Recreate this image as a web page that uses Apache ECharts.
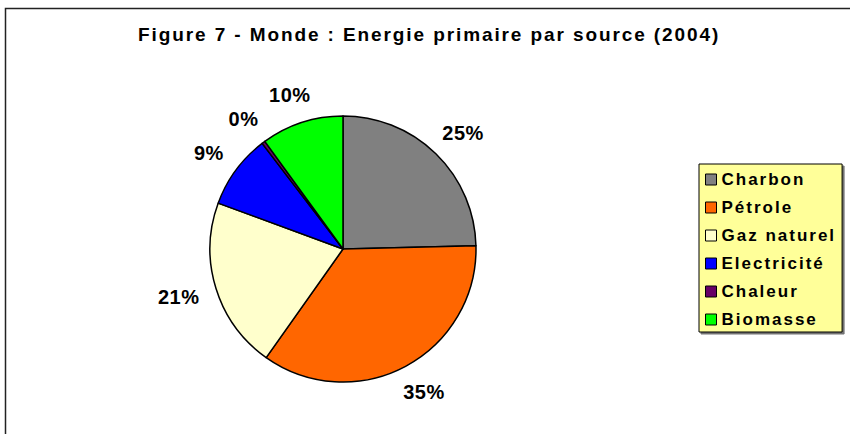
<!DOCTYPE html>
<html>
<head>
    <meta charset="utf-8">
    <title>Energie primaire par source</title>
    <script type="text/javascript" src="https://cdn.jsdelivr.net/npm/echarts@6/dist/echarts.min.js"></script>
    <style>
        html, body { margin: 0; padding: 0; background: #fff; }
    </style>
</head>
<body>
<div id="main" style="width: 850px;height:434px;"></div>
<script type="text/javascript">
    // données (en % de l'énergie primaire mondiale)
    var sources = ['Charbon', 'Pétrole', 'Gaz naturel', 'Electricité', 'Chaleur', 'Biomasse'];
    var parts = [24.6, 35.2, 20.8, 9.0, 0.4, 10.0];
    var couleurs = ['#808080', '#FF6600', '#FFFFCC', '#0000FF', '#660066', '#00FF00'];

    var centre = [343, 249];
    var rayon = 133;
    var total = parts.reduce(function (a, b) { return a + b; }, 0);

    // angle milieu (en radians, sens horaire depuis le haut) de chaque part
    function angleMilieu(i) {
        var cumul = 0;
        for (var k = 0; k < i; k++) cumul += parts[k];
        return (cumul + parts[i] / 2) / total * 2 * Math.PI;
    }

    // l'original a un texte un peu espacé (rendu Excel) : on l'imite en SVG
    function espacerLettres() {
        var textes = document.querySelectorAll('#main svg text');
        textes.forEach(function (t) {
            var taille = parseFloat(getComputedStyle(t).fontSize);
            if (taille >= 20) t.style.letterSpacing = '0.5px';
            else if (taille >= 18) t.style.letterSpacing = '1.9px';
            else t.style.letterSpacing = '2px';
        });
    }

    var myChart = echarts.init(document.getElementById('main'), null, { renderer: 'svg' });

    myChart.setOption({
        animation: false,
        title: {
            text: 'Figure 7 - Monde : Energie primaire par source (2004)',
            left: 133,
            top: 20,
            textStyle: {
                fontFamily: 'Liberation Sans, Arial, sans-serif',
                fontWeight: 'bold',
                fontSize: 19,
                color: '#000'
            }
        },
        graphic: [{
            type: 'rect',
            shape: { x: 5.5, y: 8.5, width: 860, height: 440 },
            style: { fill: 'none', stroke: '#222', lineWidth: 1.5 },
            silent: true,
            z: -1
        }],
        legend: {
            orient: 'vertical',
            left: 699,
            top: 164,
            padding: [7, 28, 4, 6],
            backgroundColor: '#FFFF99',
            borderColor: '#000',
            borderWidth: 1,
            shadowColor: 'rgba(0,0,0,0.55)',
            shadowOffsetX: 2,
            shadowOffsetY: 2,
            shadowBlur: 0,
            icon: 'rect',
            itemWidth: 11,
            itemHeight: 11,
            itemGap: 11,
            itemTextGap: 6,
            itemStyle: { borderColor: '#000', borderWidth: 1 },
            textStyle: {
                fontFamily: 'Liberation Sans, Arial, sans-serif',
                fontWeight: 'bold',
                fontSize: 17,
                lineHeight: 17,
                color: '#000'
            },
            data: sources
        },
        series: [{
            type: 'pie',
            center: centre,
            radius: rayon,
            startAngle: 90,
            clockwise: true,
            avoidLabelOverlap: false,
            percentPrecision: 0,
            itemStyle: { borderColor: '#000', borderWidth: 1.5 },
            emphasis: { disabled: true },
            label: {
                show: true,
                position: 'outside',
                formatter: '{d}%',
                fontFamily: 'Liberation Sans, Arial, sans-serif',
                fontWeight: 'bold',
                fontSize: 20,
                color: '#000'
            },
            labelLine: { show: false },
            labelLayout: function (params) {
                var a = angleMilieu(params.dataIndex);
                var dx = Math.sin(a), dy = -Math.cos(a);
                var d = rayon + 19;
                var w = params.labelRect.width, h = params.labelRect.height;
                return {
                    x: centre[0] + dx * d + dx * w / 2,
                    y: centre[1] + dy * d + dy * h / 2,
                    align: 'center',
                    verticalAlign: 'middle'
                };
            },
            data: sources.map(function (s, i) {
                return { name: s, value: parts[i], itemStyle: { color: couleurs[i] } };
            })
        }]
    });

    espacerLettres();
    myChart.on('finished', espacerLettres);
</script>
</body>
</html>
